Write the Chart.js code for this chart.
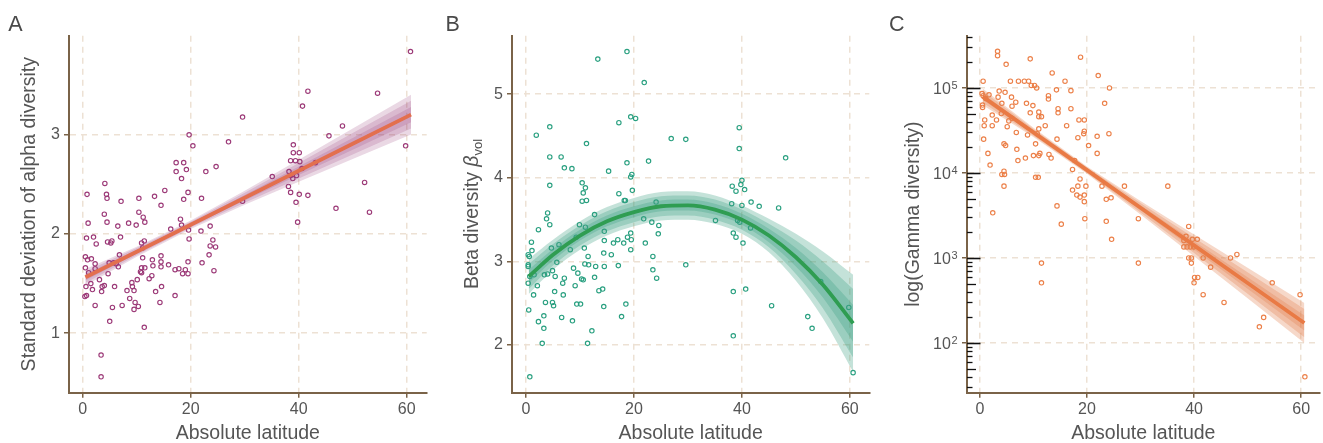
<!DOCTYPE html>
<html><head><meta charset="utf-8">
<script src="https://cdn.jsdelivr.net/npm/chart.js@4.4.1/dist/chart.umd.min.js"></script>
<style>
html,body{margin:0;padding:0;background:#fff;}
body{width:1323px;height:443px;position:relative;overflow:hidden;font-family:"Liberation Sans",Arial,sans-serif;}
canvas{position:absolute;top:0;}
.letter{position:absolute;top:13.8px;font-size:21.5px;line-height:1;color:#4a4a4a;}
#ytB{position:absolute;left:471.5px;top:214px;transform:translate(-50%,-50%) rotate(-90deg);font-size:19.5px;color:#555;white-space:nowrap;line-height:1;}
#ytB sub{font-size:13px;vertical-align:-4px;line-height:0;}
</style></head>
<body>
<canvas id="cA" width="440" height="443" style="left:0px"></canvas>
<canvas id="cB" width="440" height="443" style="left:440px"></canvas>
<canvas id="cC" width="443" height="443" style="left:880px"></canvas>
<div class="letter" style="left:8.3px">A</div>
<div class="letter" style="left:445.6px">B</div>
<div class="letter" style="left:889px">C</div>
<div id="ytB">Beta diversity <i>β</i><sub>vol</sub></div>
<script>
// ---------- shared tick labels ----------
const xTicks = [0, 20, 40, 60];
const yTicksA = [1, 2, 3];
const yTicksB = [2, 3, 4, 5];
const yTicksC = [100, 1000, 10000, 100000];
const yTickBaseC = '10';
const yTickExpC = ['2', '3', '4', '5'];
const logMinorMult = [1, 2, 3, 4, 5, 6, 7, 8, 9];
const logDecades = [10, 100, 1000, 10000, 100000];

// ---------- Panel A ----------
const latA = [
60.7,41.7,54.6,40.7,29.6,48.1,45.6,19.7,20.4,59.8,
27.0,39.0,39.0,40.1,38.5,39.4,40.2,43.1,40.6,38.2,
35.1,38.5,38.9,39.6,38.1,38.5,40.1,41.7,39.5,39.8,
46.9,52.2,53.1,29.6,24.7,22.8,17.3,18.7,17.3,19.2,
18.3,19.5,18.7,22.0,15.2,13.3,14.5,10.4,7.1,4.1,
4.4,4.5,0.8,4.0,10.4,11.2,11.5,8.5,9.9,6.5,
4.5,1.0,2.0,0.7,7.0,2.5,4.6,5.2,5.4,10.9,
11.4,11.1,18.1,18.3,16.3,19.6,19.7,21.9,23.6,24.1,
23.6,24.6,23.4,22.1,24.3,19.5,19.5,18.5,19.0,17.8,
17.1,15.9,14.5,14.5,14.5,12.9,13.0,11.1,11.5,10.9,
10.7,10.9,10.1,12.3,12.8,9.1,9.2,8.2,9.5,8.7,
9.7,10.3,9.5,14.6,13.5,14.3,17.1,11.4,7.3,5.5,
5.0,5.9,2.3,3.4,3.4,6.8,6.6,6.2,5.7,4.9,
4.7,3.1,4.0,3.6,3.5,1.8,1.5,2.3,2.3,1.6,
0.9,0.5,1.1,0.5,0.6,0.4,0.7];
const sdA = [
3.84,3.44,3.42,3.29,3.18,3.09,2.99,3.00,2.89,2.89,
2.93,2.90,2.82,2.82,2.74,2.74,2.73,2.72,2.66,2.63,
2.58,2.59,2.56,2.59,2.48,2.42,2.40,2.39,2.32,2.12,
2.26,2.52,2.22,2.33,2.68,2.63,2.72,2.72,2.63,2.65,
2.56,2.42,2.35,2.36,2.44,2.38,2.29,2.36,2.33,2.51,
2.40,2.36,2.40,2.20,2.22,2.17,2.12,2.11,2.09,2.08,
2.12,2.11,1.97,1.96,1.97,1.90,1.92,1.91,1.93,1.91,
1.93,1.86,2.15,2.09,2.05,2.04,1.95,2.03,2.08,1.94,
1.88,1.87,1.79,1.71,1.63,1.72,1.60,1.60,1.64,1.65,
1.64,1.69,1.78,1.72,1.67,1.74,1.68,1.76,1.66,1.66,
1.62,1.61,1.54,1.55,1.58,1.51,1.47,1.43,1.43,1.35,
1.31,1.27,1.24,1.47,1.42,1.31,1.38,1.06,1.28,1.26,
1.12,1.47,1.28,0.78,0.56,1.79,1.67,1.70,1.71,1.71,
1.60,1.54,1.48,1.47,1.42,1.44,1.50,1.70,1.65,1.75,
1.74,1.77,1.61,1.66,1.47,1.37,1.38];
const fitXA = [0.5, 10, 20, 30, 40, 50, 60.8];
const fitA = [1.564, 1.822, 2.094, 2.366, 2.638, 2.910, 3.204];
const outerHiA = [1.648, 1.873, 2.136, 2.437, 2.749, 3.064, 3.404];
const outerLoA = [1.480, 1.771, 2.052, 2.295, 2.527, 2.756, 3.004];
const midHiA = [1.623, 1.858, 2.123, 2.416, 2.716, 3.018, 3.344];
const midLoA = [1.505, 1.786, 2.065, 2.316, 2.560, 2.802, 3.064];
const innerHiA = [1.596, 1.841, 2.110, 2.393, 2.680, 2.969, 3.280];
const innerLoA = [1.532, 1.803, 2.078, 2.339, 2.596, 2.851, 3.128];

// ---------- Panel B ----------
const latB = [
18.7,13.3,21.9,19.4,20.3,17.2,4.4,1.9,26.9,29.6,
39.5,39.5,11.2,4.4,6.5,22.7,48.1,18.7,7.1,8.5,
15.3,19.6,19.4,10.4,4.4,11.0,10.6,19.7,17.2,18.2,
18.4,10.4,11.2,24.1,40.0,38.2,39.8,40.5,38.9,38.1,
40.0,41.7,43.2,46.8,35.1,39.2,39.6,38.4,38.9,40.2,
41.6,4.0,3.8,4.4,12.7,2.3,9.9,11.0,21.8,23.3,
24.6,24.5,19.4,18.8,19.5,14.5,14.5,17.0,16.2,18.1,
22.1,19.4,9.3,6.1,4.7,1.0,1.1,0.4,0.6,8.2,
10.8,11.5,14.4,15.8,23.5,29.6,0.4,0.4,5.7,4.9,
10.9,11.6,12.9,14.5,17.1,23.5,8.8,9.6,0.7,1.5,
3.4,4.0,5.4,7.1,10.3,10.6,12.7,24.2,0.4,6.8,
2.1,9.1,14.2,13.5,5.3,1.4,6.9,38.4,40.7,3.6,
4.9,5.1,9.4,10.1,14.4,18.5,45.5,0.5,3.3,6.6,
17.7,2.3,8.6,3.3,12.2,3.0,11.4,38.4,52.2,53.0,
54.6,59.8,60.6,0.7];
const betaB = [
5.51,5.42,5.14,4.73,4.71,4.66,4.61,4.51,4.47,4.46,
4.60,4.35,4.41,4.25,4.25,4.20,4.24,4.18,4.12,4.11,
4.08,4.04,4.01,3.94,3.91,3.88,3.82,3.85,3.81,3.73,
3.73,3.72,3.73,3.71,3.97,3.90,3.92,3.86,3.84,3.69,
3.67,3.71,3.66,3.64,3.49,3.49,3.47,3.34,3.29,3.22,
3.40,3.58,3.51,3.44,3.56,3.38,3.44,3.41,3.51,3.47,
3.43,3.33,3.34,3.29,3.26,3.36,3.25,3.26,3.22,3.22,
3.22,3.14,3.29,3.20,3.16,3.23,3.13,3.08,3.06,3.14,
3.16,3.06,3.10,3.08,3.06,2.96,2.96,2.94,2.99,2.89,
2.97,2.96,2.94,2.94,2.95,2.90,2.92,2.86,2.82,2.84,
2.84,2.85,2.82,2.80,2.79,2.78,2.81,2.80,2.74,2.74,
2.71,2.71,2.67,2.65,2.64,2.60,2.60,2.64,2.67,2.51,
2.51,2.47,2.49,2.49,2.46,2.49,2.47,2.42,2.35,2.33,
2.34,2.28,2.29,2.20,2.17,2.02,2.02,2.11,2.34,2.20,
2.76,2.45,1.67,1.62];
const fitXB = [0.5, 5, 10, 15, 20, 25, 30, 35, 40, 45, 50, 55, 60.6];
const fitB = [2.82, 3.08, 3.31, 3.48, 3.59, 3.66, 3.67, 3.62, 3.50, 3.31, 3.05, 2.72, 2.26];
const outerHiB = [3.03, 3.26, 3.48, 3.65, 3.76, 3.83, 3.84, 3.79, 3.67, 3.51, 3.33, 3.12, 2.84];
const outerLoB = [2.61, 2.90, 3.14, 3.31, 3.42, 3.49, 3.50, 3.45, 3.33, 3.11, 2.77, 2.32, 1.68];
const midHiB = [2.97, 3.21, 3.43, 3.60, 3.71, 3.78, 3.79, 3.74, 3.62, 3.45, 3.25, 3.00, 2.67];
const midLoB = [2.67, 2.95, 3.19, 3.36, 3.47, 3.54, 3.55, 3.50, 3.38, 3.17, 2.85, 2.44, 1.85];
const innerHiB = [2.90, 3.15, 3.38, 3.55, 3.66, 3.73, 3.74, 3.69, 3.57, 3.39, 3.16, 2.87, 2.48];
const innerLoB = [2.74, 3.01, 3.25, 3.42, 3.53, 3.60, 3.61, 3.56, 3.44, 3.23, 2.94, 2.57, 2.04];

// ---------- Panel C ----------
const latC = [
3.3,3.3,4.9,9.4,18.8,13.5,22.1,0.6,5.7,7.2,
8.3,9.1,15.9,9.6,10.2,10.6,24.2,3.6,4.7,14.3,
17.0,0.4,0.6,1.7,1.1,12.8,12.8,3.4,5.9,6.7,
8.7,4.1,0.5,0.5,6.0,9.9,23.3,17.0,14.6,14.6,
9.4,11.0,11.0,11.5,4.0,2.3,3.1,0.9,5.4,6.0,
18.5,19.5,0.8,2.3,5.1,12.2,16.2,11.0,19.5,19.4,
24.1,6.8,8.9,10.7,18.3,21.9,14.4,0.7,4.5,4.8,
10.4,20.3,6.9,1.5,11.2,11.0,10.0,12.9,21.9,13.3,
8.5,7.1,17.7,1.9,17.3,4.5,4.1,4.6,10.4,10.9,
18.7,4.5,18.3,19.8,22.8,27.0,35.1,17.3,18.1,18.7,
19.5,19.5,24.5,23.6,14.4,2.4,19.6,29.6,23.6,15.2,
39.0,24.6,38.5,38.1,39.7,40.6,38.1,38.7,39.3,39.9,
39.0,39.5,41.7,46.8,48.0,39.5,29.6,11.5,43.1,40.1,
40.7,40.0,11.5,54.6,41.7,45.6,59.8,53.0,52.2,60.7];
const gammaC = [
270000,240000,190000,220000,230000,150000,140000,120000,120000,120000,
120000,120000,120000,107000,107000,100000,100000,92000,89000,95000,
93000,86000,81000,83000,75000,81000,74000,78000,78000,68000,
66000,66000,63000,59000,61000,62000,66000,57000,57000,51000,
51000,52000,46000,46000,50000,48000,42000,42000,41000,44000,
42000,42000,36000,36000,35000,36000,36000,33000,31000,29000,
29000,30000,28000,29000,26000,27000,25000,25000,22000,21000,
22000,21000,19000,17000,17000,16000,16000,16500,17000,15000,
15000,14000,14000,12400,11000,10500,9600,9600,8900,8900,
8500,7000,7000,7000,7000,7000,7000,6300,5500,5200,
5500,4600,5100,4900,4100,3400,2900,2900,2700,2500,
2350,1660,1800,1600,1660,1660,1350,1350,1350,1350,
1000,1000,1000,1000,1100,870,870,870,780,590,
590,510,510,510,370,300,370,200,155,40];
const fitXC = [0.5, 10, 20, 30, 40, 50, 60.6];
const fitC = [79000, 30000, 10800, 3900, 1406, 507, 172];
const outerHiC = [98900, 34040, 11940, 4688, 1892, 767, 295];
const outerLoC = [63240, 26420, 9795, 3243, 1045, 335, 100];
const midHiC = [92470, 32810, 11590, 4436, 1730, 678, 251];
const midLoC = [67610, 27480, 10090, 3428, 1143, 379, 117];
const innerHiC = [86100, 31480, 11220, 4178, 1574, 593, 211];
const innerLoC = [72610, 28580, 10420, 3639, 1256, 434, 140];

// ---------- styling ----------
const FONT = "'Liberation Sans', Arial, Helvetica, sans-serif";
const AXIS = '#7a6348';
const GRID = '#ede1d4';
const TXT = '#555555';

function pts(xs, ys) { return xs.map((x, i) => ({x: x, y: ys[i]})); }

function bandPair(xs, hi, lo, color, smooth) {
  const common = {type: 'line', borderColor: 'rgba(0,0,0,0)', borderWidth: 0, pointRadius: 0,
    pointHoverRadius: 0, order: 5, tension: 0};
  if (smooth) common.cubicInterpolationMode = 'monotone';
  return [
    Object.assign({}, common, {data: pts(xs, hi), fill: '+1', backgroundColor: color}),
    Object.assign({}, common, {data: pts(xs, lo), fill: false})
  ];
}

// log ticks inside the panel + power-of-ten labels (positions from the y scale)
const logTicksPlugin = {
  id: 'logticks',
  afterDraw(chart) {
    const y = chart.scales.y, ctx = chart.ctx, left = chart.chartArea.left;
    ctx.save();
    ctx.strokeStyle = '#111';
    logDecades.forEach(d => {
      logMinorMult.forEach(m => {
        const v = m * d;
        if (v < y.min || v > y.max) return;
        const py = Math.round(y.getPixelForValue(v)) + 0.5;
        const len = m === 1 ? 13.5 : (m === 5 ? 9 : 5.5);
        ctx.lineWidth = m === 1 ? 1.6 : 1.3;
        ctx.beginPath(); ctx.moveTo(left, py); ctx.lineTo(left + len, py); ctx.stroke();
      });
    });
    ctx.fillStyle = TXT;
    ctx.textAlign = 'left';
    ctx.textBaseline = 'alphabetic';
    const right = left - 9.5;
    yTicksC.forEach((v, i) => {
      const py = y.getPixelForValue(v);
      ctx.font = '11px ' + FONT;
      const we = ctx.measureText(yTickExpC[i]).width;
      ctx.font = '16px ' + FONT;
      const wb = ctx.measureText(yTickBaseC).width;
      ctx.fillText(yTickBaseC, right - we - wb - 0.5, py + 6.5);
      ctx.font = '11px ' + FONT;
      ctx.fillText(yTickExpC[i], right - we, py + 1.3);
    });
    ctx.restore();
  }
};

function panel(id, p) {
  const datasets = [
    {type: 'scatter', data: pts(p.lat, p.val), pointStyle: 'circle', pointRadius: 2.2, pointHoverRadius: 2.2,
     borderWidth: 1.15, borderColor: p.pointColor, backgroundColor: 'rgba(0,0,0,0)', order: 10},
    {type: 'line', data: pts(p.fitX, p.fit), borderColor: p.lineColor, borderWidth: 3.8, pointRadius: 0,
     fill: false, order: 0, borderCapStyle: 'butt', tension: 0,
     cubicInterpolationMode: p.smooth ? 'monotone' : 'default'},
    ...bandPair(p.fitX, p.outerHi, p.outerLo, p.band, p.smooth),
    ...bandPair(p.fitX, p.midHi, p.midLo, p.band, p.smooth),
    ...bandPair(p.fitX, p.innerHi, p.innerLo, p.band, p.smooth)
  ];
  const gridOpts = {color: GRID, lineWidth: 1.5, drawTicks: true, tickLength: 5, tickColor: AXIS,
    tickWidth: 1.5, tickBorderDash: [], borderDash: [6, 5]};
  const borderOpts = {display: true, color: AXIS, width: 2, dash: [6, 5]};
  return new Chart(document.getElementById(id), {
    type: 'scatter',
    data: {datasets: datasets},
    options: {
      responsive: false, animation: false, devicePixelRatio: 1,
      layout: {padding: {left: 0, top: 35.7, right: p.padRight, bottom: 0}},
      plugins: {legend: {display: false}, tooltip: {enabled: false}},
      scales: {
        x: {
          type: 'linear', min: p.xMin, max: p.xMax,
          afterBuildTicks: s => { s.ticks = xTicks.map(v => ({value: v})); },
          afterFit: s => { s.height = 50.3; },
          grid: gridOpts, border: borderOpts,
          ticks: {color: TXT, font: {family: FONT, size: 16}, padding: 2, maxRotation: 0, autoSkip: false,
                  callback: v => String(v)},
          title: {display: true, text: 'Absolute latitude', color: TXT,
                  font: {family: FONT, size: 19.5, lineHeight: 0.92}, padding: 0}
        },
        y: {
          type: p.log ? 'logarithmic' : 'linear', min: p.yMin, max: p.yMax,
          afterBuildTicks: s => { s.ticks = p.yTicks.map(v => ({value: v})); },
          afterFit: s => { s.width = p.yAxisWidth; },
          grid: gridOpts, border: borderOpts,
          ticks: {display: !p.log, color: TXT, font: {family: FONT, size: 16}, padding: 4, autoSkip: false,
                  callback: v => String(v)},
          title: p.yTitle ? {display: true, text: p.yTitle, color: TXT,
                  font: {family: FONT, size: 19.5, lineHeight: 1.2}, padding: {top: p.yTitlePad, bottom: 0}}
                : {display: false}
        }
      }
    },
    plugins: p.log ? [logTicksPlugin] : []
  });
}

panel('cA', {
  lat: latA, val: sdA, fitX: fitXA, fit: fitA,
  outerHi: outerHiA, outerLo: outerLoA, midHi: midHiA, midLo: midLoA, innerHi: innerHiA, innerLo: innerLoA,
  pointColor: '#9c3a78', lineColor: '#e36f4e', band: 'rgba(150,60,120,0.2)', smooth: false,
  xMin: -2.54, xMax: 63.7, yMin: 0.4, yMax: 4.0, yTicks: yTicksA,
  yAxisWidth: 69, padRight: 13.3, yTitle: 'Standard deviation of alpha diversity', yTitlePad: 18
});
panel('cB', {
  lat: latB, val: betaB, fitX: fitXB, fit: fitB,
  outerHi: outerHiB, outerLo: outerLoB, midHi: midHiB, midLo: midLoB, innerHi: innerHiB, innerLo: innerLoB,
  pointColor: '#2aa080', lineColor: '#2f9d52', band: 'rgba(60,160,130,0.3)', smooth: true,
  xMin: -2.6, xMax: 63.6, yMin: 1.43, yMax: 5.70, yTicks: yTicksB,
  yAxisWidth: 72, padRight: 10.7, yTitle: null
});
panel('cC', {
  lat: latC, val: gammaC, fitX: fitXC, fit: fitC,
  outerHi: outerHiC, outerLo: outerLoC, midHi: midHiC, midLo: midLoC, innerHi: innerHiC, innerLo: innerLoC,
  pointColor: '#ec8049', lineColor: '#e97a45', band: 'rgba(225,125,75,0.3)', smooth: false, log: true,
  xMin: -2.41, xMax: 63.46, yMin: 26, yMax: 412000, yTicks: yTicksC,
  yAxisWidth: 87, padRight: 0.3, yTitle: 'log(Gamma diversity)', yTitlePad: 21.6
});
</script>
</body></html>
